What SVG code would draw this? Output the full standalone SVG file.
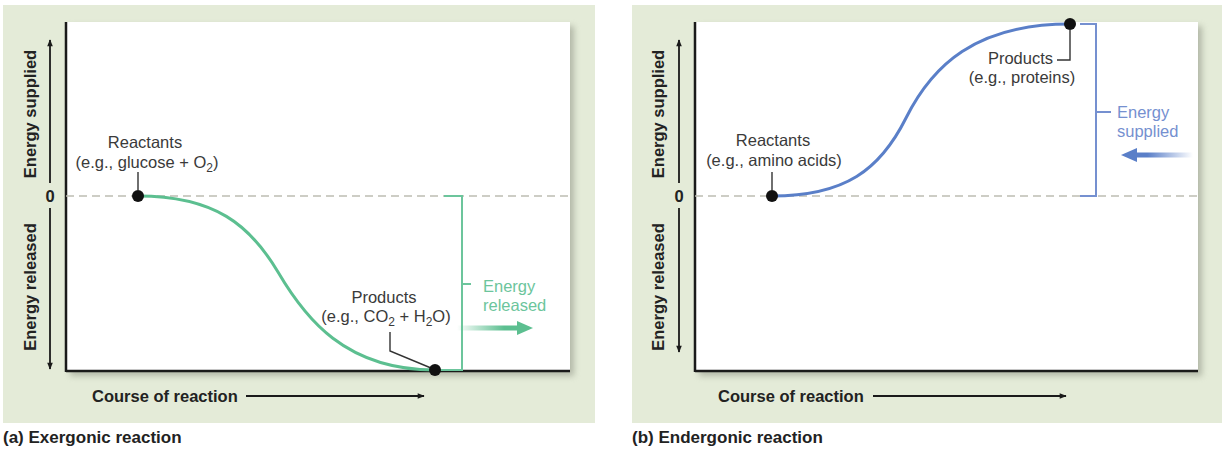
<svg xmlns="http://www.w3.org/2000/svg" width="1228" height="452" viewBox="0 0 1228 452">
<style>
.bg{fill:#e4ebd8}
.plot{fill:#ffffff}
.axis{stroke:#1a1a1a;stroke-width:2.5;fill:none}
.ax{stroke:#1a1a1a;stroke-width:1.8;fill:none}
.dash{stroke:#bdbdb3;stroke-width:1.6;stroke-dasharray:8 5;fill:none}
.lab{font-family:"Liberation Sans",Arial,sans-serif;font-size:16.5px;fill:#3a3a3a}
.bold{font-family:"Liberation Sans",Arial,sans-serif;font-size:16.5px;font-weight:bold;fill:#222}
.title{font-family:"Liberation Sans",Arial,sans-serif;font-size:17px;font-weight:bold;fill:#222}
.leader{stroke:#333;stroke-width:1.4;fill:none}
.dot{fill:#111}
.gcurve{stroke:#5cbf90;stroke-width:3;fill:none}
.gbr{stroke:#6cc59c;stroke-width:2;fill:none}
.gtxt{font-family:"Liberation Sans",Arial,sans-serif;font-size:16.5px;fill:#6cc59c}
.bcurve{stroke:#5a7fc8;stroke-width:3;fill:none}
.bbr{stroke:#7590d0;stroke-width:2;fill:none}
.btxt{font-family:"Liberation Sans",Arial,sans-serif;font-size:16.5px;fill:#7590d0}
</style>
<defs>
<marker id="ah" viewBox="0 0 10 10" refX="9" refY="5" markerWidth="8" markerHeight="7" markerUnits="userSpaceOnUse" orient="auto">
<path d="M0,1 L10,5 L0,9 Z" fill="#1a1a1a"/>
</marker>
<filter id="sh" x="-5%" y="-5%" width="112%" height="115%">
<feGaussianBlur stdDeviation="3"/>
</filter>
<linearGradient id="gg" gradientUnits="userSpaceOnUse" x1="457" y1="0" x2="520" y2="0">
<stop offset="0" stop-color="#5cbf90" stop-opacity="0"/>
<stop offset="0.75" stop-color="#5cbf90" stop-opacity="1"/>
</linearGradient>
<linearGradient id="bg2" gradientUnits="userSpaceOnUse" x1="1193" y1="0" x2="1132" y2="0">
<stop offset="0" stop-color="#5a7fc8" stop-opacity="0"/>
<stop offset="0.75" stop-color="#5a7fc8" stop-opacity="1"/>
</linearGradient>
</defs>

<!-- Panel a -->
<g id="panel-a">
<rect class="bg" x="3" y="5" width="592" height="418"/>
<rect x="70" y="26" width="504" height="350" fill="#8a8f80" opacity="0.55" filter="url(#sh)"/>
<rect class="plot" x="66" y="22" width="504" height="350"/>
<line class="axis" x1="66" y1="22" x2="66" y2="372"/>
<line class="axis" x1="66" y1="371" x2="570" y2="371"/>
<line class="dash" x1="66" y1="196" x2="570" y2="196"/>
</g>
<g id="a-yaxis">
<line class="ax" x1="50" y1="183" x2="50" y2="40" marker-end="url(#ah)"/>
<line class="ax" x1="50" y1="208" x2="50" y2="369" marker-end="url(#ah)"/>
<text class="bold" x="50" y="202" text-anchor="middle">0</text>
<text class="bold" transform="translate(36,114) rotate(-90)" text-anchor="middle">Energy supplied</text>
<text class="bold" transform="translate(36,287) rotate(-90)" text-anchor="middle">Energy released</text>
</g>
<g id="a-xaxis">
<text class="bold" x="92" y="402">Course of reaction</text>
<line class="ax" x1="246" y1="396" x2="424" y2="396" marker-end="url(#ah)"/>
<text class="title" x="3" y="443">(a) Exergonic reaction</text>
</g>
<g id="a-connectors">
<path class="gcurve" d="M138,196 C215,196 250,225 278,272 C305,318 345,370 435,370"/>
<path class="gbr" d="M444,196 H462 V370 H436 M462,284 H471"/>
<rect x="457" y="325.5" width="63" height="5" fill="url(#gg)"/>
<path d="M517,321 L533,328 L517,335 Z" fill="#5cbf90"/>
<path class="leader" d="M138,172 V190"/>
<path class="leader" d="M390,332 V351 L431,368"/>
</g>
<g id="a-reactants">
<circle class="dot" cx="138" cy="196" r="6"/>
<text class="lab" x="145" y="148" text-anchor="middle">Reactants</text>
<text class="lab" x="147" y="168" text-anchor="middle">(e.g., glucose + O<tspan font-size="12" dy="4">2</tspan><tspan dy="-4">)</tspan></text>
</g>
<g id="a-products">
<circle class="dot" cx="435" cy="370" r="6"/>
<text class="lab" x="384" y="303" text-anchor="middle">Products</text>
<text class="lab" x="386" y="322" text-anchor="middle">(e.g., CO<tspan font-size="12" dy="4">2</tspan><tspan dy="-4"> + H</tspan><tspan font-size="12" dy="4">2</tspan><tspan dy="-4">O)</tspan></text>
</g>
<g id="a-energy">
<text class="gtxt" x="483" y="292">Energy</text>
<text class="gtxt" x="483" y="311">released</text>
</g>

<!-- Panel b -->
<g id="panel-b">
<rect class="bg" x="632" y="5" width="590" height="418"/>
<rect x="699" y="26" width="503" height="350" fill="#8a8f80" opacity="0.55" filter="url(#sh)"/>
<rect class="plot" x="695" y="22" width="503" height="350"/>
<line class="axis" x1="695" y1="22" x2="695" y2="372"/>
<line class="axis" x1="695" y1="371" x2="1198" y2="371"/>
<line class="dash" x1="695" y1="196" x2="1198" y2="196"/>
</g>
<g id="b-yaxis">
<line class="ax" x1="679" y1="183" x2="679" y2="40" marker-end="url(#ah)"/>
<line class="ax" x1="679" y1="208" x2="679" y2="352" marker-end="url(#ah)"/>
<text class="bold" x="679" y="202" text-anchor="middle">0</text>
<text class="bold" transform="translate(664,114) rotate(-90)" text-anchor="middle">Energy supplied</text>
<text class="bold" transform="translate(664,287) rotate(-90)" text-anchor="middle">Energy released</text>
</g>
<g id="b-xaxis">
<text class="bold" x="718" y="402">Course of reaction</text>
<line class="ax" x1="873" y1="396" x2="1066" y2="396" marker-end="url(#ah)"/>
<text class="title" x="632" y="443">(b) Endergonic reaction</text>
</g>
<g id="b-connectors">
<path class="bcurve" d="M772,196 C845,196 880,170 906,118 C932,66 975,24 1070,24"/>
<path class="bbr" d="M1080,24 H1096 V196 H1080 M1096,112 H1111"/>
<rect x="1132" y="152.5" width="61" height="5" fill="url(#bg2)"/>
<path d="M1137,148 L1121,155 L1137,162 Z" fill="#5a7fc8"/>
<path class="leader" d="M772,172 V190"/>
<path class="leader" d="M1070,30 V60 H1057"/>
</g>
<g id="b-reactants">
<circle class="dot" cx="772" cy="196" r="6"/>
<text class="lab" x="773" y="146" text-anchor="middle">Reactants</text>
<text class="lab" x="774" y="166" text-anchor="middle">(e.g., amino acids)</text>
</g>
<g id="b-products">
<circle class="dot" cx="1070" cy="24" r="6"/>
<text class="lab" x="1053" y="64" text-anchor="end">Products</text>
<text class="lab" x="1022" y="83" text-anchor="middle">(e.g., proteins)</text>
</g>
<g id="b-energy">
<text class="btxt" x="1117" y="118">Energy</text>
<text class="btxt" x="1117" y="137">supplied</text>
</g>
</svg>
